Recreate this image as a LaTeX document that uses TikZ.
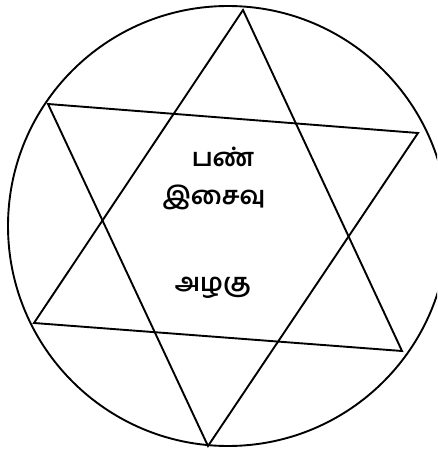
\documentclass[tikz,border=0pt]{standalone}
\usepackage{fontspec}
\newfontfamily\tamilfont[Script=Tamil]{Hind Madurai}
\usetikzlibrary{positioning}
\tikzset{
    starline/.style={line width=1.9pt, line join=miter},
    tamiltext/.style={font=\tamilfont\bfseries\fontsize{25}{25}\selectfont, inner sep=0pt}
}

\begin{document}
\begin{tikzpicture}[x=1pt,y=-1pt]
    \useasboundingbox (0,0) rectangle (437,449);
    \clip (0,0) rectangle (437,449);
    % outer circle
    \draw[starline] (228,226) circle[radius=220];
    % upward triangle
    \coordinate (top) at (243,10);
    \coordinate (lowleft) at (34,323);
    \coordinate (lowright) at (402,351);
    % downward triangle
    \coordinate (upleft) at (48,104);
    \coordinate (upright) at (418,133);
    \coordinate (bottom) at (208,446);
    \draw[starline] (top) -- (lowleft) -- (lowright) -- cycle;
    \draw[starline] (upleft) -- (upright) -- (bottom) -- cycle;
    % texts
    \node[tamiltext] (pan) at (223,157) {பண்};
    \node[tamiltext] (isaivu) at (214,197) {இசைவு};
    \node[tamiltext] (azhagu) at (213,288) {அழகு};
\end{tikzpicture}
\end{document}
